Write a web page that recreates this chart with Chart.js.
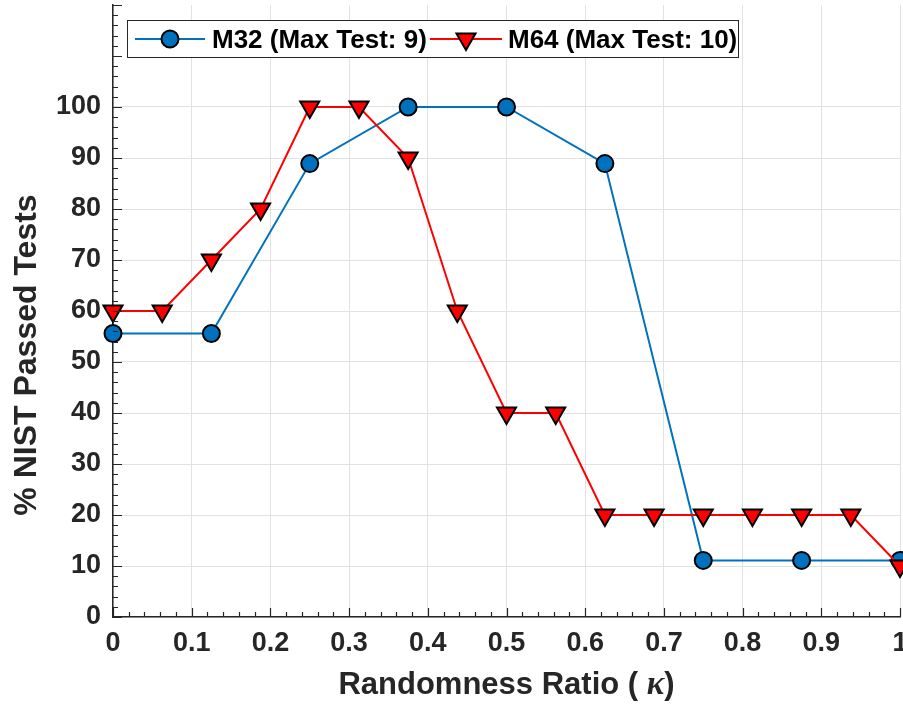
<!DOCTYPE html>
<html>
<head>
<meta charset="utf-8">
<script src="https://cdn.jsdelivr.net/npm/chart.js@4.4.1/dist/chart.umd.min.js"></script>
<style>
  html, body { margin: 0; padding: 0; background: #fff; }
  #wrap { width: 903px; height: 706px; }
</style>
</head>
<body>
<div id="wrap"><canvas id="nist-chart"></canvas></div>
<script>
// randomness ratio (kappa) and % of NIST tests passed
const kappaM32 = [0, 0.125, 0.25, 0.375, 0.5, 0.625, 0.75, 0.875, 1];
const passedM32 = [55.6, 55.6, 88.9, 100, 100, 88.9, 11.1, 11.1, 11.1];
const kappaM64 = [0, 0.0625, 0.125, 0.1875, 0.25, 0.3125, 0.375, 0.4375, 0.5,
                  0.5625, 0.625, 0.6875, 0.75, 0.8125, 0.875, 0.9375, 1];
const passedM64 = [60, 60, 70, 80, 100, 100, 90, 60, 40, 40, 20, 20, 20, 20, 20, 20, 10];
const seriesNames = ['M32 (Max Test: 9)', 'M64 (Max Test: 10)'];
const yTickLabels = ['0', '10', '20', '30', '40', '50', '60', '70', '80', '90', '100'];

const BLUE = '#0072BD';
const RED = '#FF0000';
const AXIS = '#262626';
const GRID = '#e2e2e2';
const BOLD = 'bold 26px "Liberation Sans", Arial, sans-serif';

function toXY(xs, ys) {
  return xs.map((x, i) => ({ x: x, y: ys[i] }));
}

// inside ticks like matlab (major + minor)
const insideTicks = {
  id: 'insideTicks',
  afterDatasetsDraw(chart) {
    const ctx = chart.ctx;
    const xs = chart.scales.x, ys = chart.scales.y;
    const area = chart.chartArea;
    ctx.save();
    ctx.strokeStyle = AXIS;
    ctx.lineWidth = 1.2;
    ctx.beginPath();
    for (let i = 0; i <= 50; i++) {
      const px = Math.round(xs.getPixelForValue(i / 50)) + 0.5;
      const len = i % 5 === 0 ? 9 : 5;
      ctx.moveTo(px, area.bottom);
      ctx.lineTo(px, area.bottom - len);
    }
    for (let i = 0; i <= 60; i++) {
      const py = Math.round(ys.getPixelForValue(i * 2)) + 0.5;
      const len = i % 5 === 0 ? 9 : 5;
      ctx.moveTo(area.left, py);
      ctx.lineTo(area.left + len, py);
    }
    ctx.stroke();
    ctx.restore();
  }
};

// legend box + axis titles
const extras = {
  id: 'extras',
  afterDraw(chart) {
    const ctx = chart.ctx;
    const area = chart.chartArea;
    ctx.save();

    // legend
    ctx.fillStyle = '#fff';
    ctx.fillRect(127.5, 20.5, 611, 37);
    ctx.strokeStyle = AXIS;
    ctx.lineWidth = 1;
    ctx.strokeRect(127.5, 20.5, 611, 37);

    const items = [
      { x0: 135, x1: 205, mx: 170, tx: 212, color: BLUE, style: { pointStyle: 'circle', radius: 8.5, rotation: 0, borderWidth: 2 } },
      { x0: 430, x1: 502, mx: 466, tx: 508, color: RED, style: { pointStyle: 'triangle', radius: 11, rotation: 180, borderWidth: 2 } }
    ];
    items.forEach((it, i) => {
      ctx.strokeStyle = it.color;
      ctx.lineWidth = 2;
      ctx.beginPath();
      ctx.moveTo(it.x0, 39);
      ctx.lineTo(it.x1, 39);
      ctx.stroke();
      ctx.fillStyle = it.color;
      ctx.strokeStyle = '#000';
      ctx.lineWidth = 2;
      Chart.helpers.drawPoint(ctx, it.style, it.mx, 39);
      ctx.fillStyle = '#000';
      ctx.font = BOLD;
      ctx.textAlign = 'left';
      ctx.textBaseline = 'alphabetic';
      ctx.fillText(seriesNames[i], it.tx, 48);
    });

    // x title with italic kappa
    ctx.fillStyle = AXIS;
    const f1 = 'bold 31px "Liberation Sans", Arial, sans-serif';
    const f2 = 'italic bold 33px "Liberation Serif", "DejaVu Serif", serif';
    const parts = [['Randomness Ratio ( ', f1], ['\u03BA', f2], [')', f1]];
    let total = 0;
    parts.forEach(p => { ctx.font = p[1]; total += ctx.measureText(p[0]).width; });
    let x = (area.left + area.right) / 2 - total / 2;
    ctx.textAlign = 'left';
    parts.forEach(p => {
      ctx.font = p[1];
      ctx.fillText(p[0], x, 694);
      x += ctx.measureText(p[0]).width;
    });

    // y title
    ctx.translate(36, 355);
    ctx.rotate(-Math.PI / 2);
    ctx.font = 'bold 32px "Liberation Sans", Arial, sans-serif';
    ctx.textAlign = 'center';
    ctx.fillText('% NIST Passed Tests', 0, 0);
    ctx.restore();
  }
};

const ctx = document.getElementById('nist-chart').getContext('2d');
new Chart(ctx, {
  type: 'line',
  data: {
    datasets: [
      {
        label: seriesNames[0],
        data: toXY(kappaM32, passedM32),
        borderColor: BLUE,
        backgroundColor: BLUE,
        borderWidth: 2,
        pointStyle: 'circle',
        pointRadius: 8.5,
        pointBorderWidth: 2,
        pointBorderColor: '#000',
        pointBackgroundColor: BLUE,
        tension: 0,
        clip: false,
        order: 2
      },
      {
        label: seriesNames[1],
        data: toXY(kappaM64, passedM64),
        borderColor: RED,
        backgroundColor: RED,
        borderWidth: 2,
        pointStyle: 'triangle',
        pointRotation: 180,
        pointRadius: 11,
        pointBorderWidth: 2,
        pointBorderColor: '#000',
        pointBackgroundColor: RED,
        tension: 0,
        clip: false,
        order: 1
      }
    ]
  },
  options: {
    responsive: true,
    maintainAspectRatio: false,
    animation: false,
    layout: { autoPadding: false, padding: { top: 5, right: 3, left: 0, bottom: 0 } },
    plugins: {
      legend: { display: false },
      tooltip: { enabled: false }
    },
    scales: {
      x: {
        type: 'linear',
        min: 0,
        max: 1,
        afterFit(scale) {
          scale.height = 89;
          scale.paddingLeft = 0;
          scale.paddingRight = 0;
        },
        ticks: {
          stepSize: 0.1,
          color: AXIS,
          font: { family: '"Liberation Sans", Arial, sans-serif', size: 27, weight: 'bold' },
          padding: 10,
          maxRotation: 0,
          callback: v => String(Math.round(v * 10) / 10)
        },
        grid: { color: GRID, lineWidth: 1, drawTicks: false },
        border: { color: AXIS, width: 1.5 }
      },
      y: {
        min: 0,
        max: 120,
        afterFit(scale) {
          scale.width = 113;
          scale.paddingTop = 0;
          scale.paddingBottom = 0;
        },
        ticks: {
          stepSize: 10,
          color: AXIS,
          font: { family: '"Liberation Sans", Arial, sans-serif', size: 27, weight: 'bold' },
          padding: 12,
          callback: v => yTickLabels[v / 10] || ''
        },
        grid: {
          color: c => (c.tick && c.tick.value > 100 ? 'rgba(0,0,0,0)' : GRID),
          lineWidth: 1,
          drawTicks: false
        },
        border: { color: AXIS, width: 1.5 }
      }
    }
  },
  plugins: [insideTicks, extras]
});
</script>
</body>
</html>
